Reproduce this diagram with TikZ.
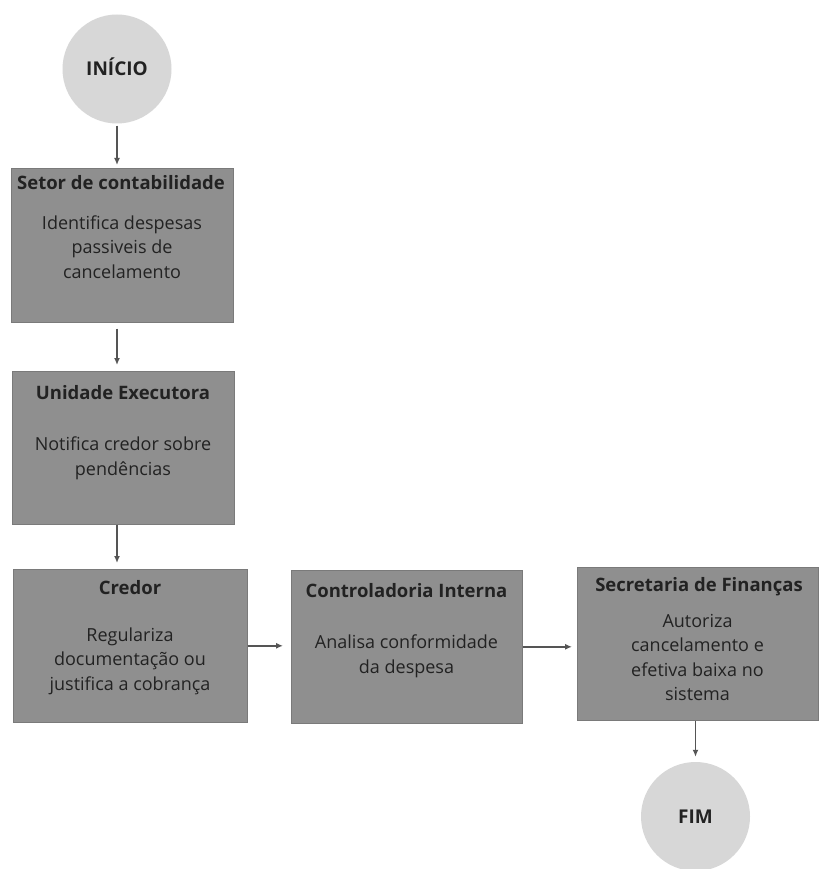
\documentclass[tikz,border=0pt]{standalone}
\usepackage{fontspec}
\setmainfont{Open Sans}
\usetikzlibrary{arrows.meta}
\definecolor{boxgray}{HTML}{8F8F8F}
\definecolor{circgray}{HTML}{D7D7D7}
\definecolor{arrowgray}{HTML}{555555}
\definecolor{txt}{HTML}{222222}
\begin{document}
\begin{tikzpicture}[x=1pt,y=-1pt,
  stepbox/.style={fill=boxgray, draw=boxgray!85!black, line width=0.6pt, inner sep=0pt, anchor=north west},
  endcirc/.style={circle, fill=circgray, minimum size=109pt, inner sep=0pt, text=txt,
    font=\bfseries\fontsize{19}{24}\selectfont, text height=13.6pt, text depth=0pt},
  boxtitle/.style={text=txt, inner sep=0pt, font=\bfseries\fontsize{18.5}{24}\selectfont, text height=14pt, text depth=4.5pt},
  boxbody/.style={text=txt, inner sep=0pt, align=center, font=\fontsize{18}{24.5}\selectfont},
  arr/.style={draw=arrowgray, line width=1.6pt, -{Latex[length=7pt,width=6pt]}}
]
\useasboundingbox (0,0) rectangle (819,869);
\fill[white] (0,0) rectangle (819,869);

% start / end
\node[endcirc] (ini) at (117,69) {INÍCIO};
\node[endcirc] (fim) at (695.5,816.5) {FIM};

% boxes
\node[stepbox, minimum width=222pt, minimum height=154pt] (b1) at (11,168) {};
\node[stepbox, minimum width=222pt, minimum height=153pt] (b2) at (12,371) {};
\node[stepbox, minimum width=234pt, minimum height=153pt] (b3) at (13,569) {};
\node[stepbox, minimum width=231pt, minimum height=153pt] (b4) at (291,570) {};
\node[stepbox, minimum width=241pt, minimum height=153pt] (b5) at (577,567) {};

% texts
\node[boxtitle] (b1t) at (121,185) {Setor de contabilidade};
\node[boxbody] (b1b) at (122,247) {Identifica despesas\\passiveis de\\cancelamento};

\node[boxtitle] (b2t) at (123,395) {Unidade Executora};
\node[boxbody] (b2b) at (123,458.5) {Notifica credor sobre\\pendências};

\node[boxtitle] (b3t) at (130,590) {Credor};
\node[boxbody] (b3b) at (130,661) {Regulariza\\documentação ou\\justifica a cobrança};

\node[boxtitle] (b4t) at (406.5,593) {Controladoria Interna};
\node[boxbody] (b4b) at (406.5,656.5) {Analisa conformidade\\da despesa};

\node[boxtitle] (b5t) at (699,587) {Secretaria de Finanças};
\node[boxbody] (b5b) at (697.5,657.5) {Autoriza\\cancelamento e\\efetiva baixa no\\sistema};

% connectors
\draw[arr, shorten <=2pt, shorten >=3pt] (ini.south) -- (ini.south |- b1.north);
\draw[arr, shorten <=6pt, shorten >=6pt] (b1.south -| ini.south) -- (b2.north -| ini.south);
\draw[arr, shorten >=6pt] (b2.south -| ini.south) -- (b3.north -| ini.south);
\draw[arr, shorten >=8pt] (b3.east) -- (b3.east -| b4.west);
\draw[arr, shorten >=5pt] (b4.east) -- (b4.east -| b5.west);
\draw[arr, shorten >=5pt] (b5.south -| fim.north) -- (fim.north);
\end{tikzpicture}
\end{document}
